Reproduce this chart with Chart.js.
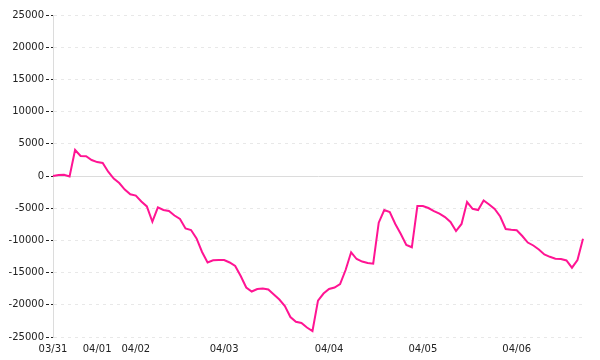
<!DOCTYPE html>
<html>
<head>
<meta charset="utf-8">
<script src="https://cdn.jsdelivr.net/npm/chart.js@4"></script>
<style>
  html, body { margin: 0; padding: 0; background: #fff; }
  #wrap { width: 600px; height: 360px; position: relative; }
</style>
</head>
<body>
<div id="wrap"><canvas id="myChart"></canvas></div>
<script>
// tick labels (one per trading day) and how many points each day has
const dayLabels = ['03/31', '04/01', '04/02', '04/03', '04/04', '04/05', '04/06'];
const pointsPerDay = [8, 7, 16, 19, 17, 17, 13];

// series values
const values = [
  0, 140, 200, -80, 4040, 3100, 3060, 2480,
  2160, 2020, 670, -390, -1090, -2100, -2840,
  -3040, -3960, -4720, -7100, -4860, -5280, -5440, -6130,
  -6680, -8150, -8390, -9700, -11800, -13430, -13090, -13050,
  -13050, -13430, -13980, -15530, -17320, -17940, -17550, -17470,
  -17630, -18400, -19180, -20190, -21900, -22640, -22830, -23530, -24070,
  -19340, -18250, -17550, -17320, -16770, -14600, -11850, -12890,
  -13290, -13510, -13620, -7250, -5280, -5600, -7450, -9000, -10700, -11070,
  -4660, -4660, -4970, -5440, -5850, -6370, -7140, -8540,
  -7450, -4040, -5090, -5280, -3800, -4430, -5120, -6290, -8230,
  -8360, -8420, -9320, -10330, -10790, -11410, -12190, -12550,
  -12840, -12890, -13120, -14240, -13050, -9740
];

// y axis tick values
const yMin = -25000, yMax = 25000, yStep = 5000;

// build one category per point from the day list
const labels = [];
dayLabels.forEach((d, i) => {
  for (let k = 0; k < pointsPerDay[i]; k++) labels.push(d);
});

const font = { family: 'DejaVu Sans', size: 10 };

const config = {
  type: 'line',
  data: {
    labels,
    datasets: [{
      data: values,
      borderColor: '#ff1493',
      borderWidth: 2,
      pointRadius: 0,
      tension: 0,
      fill: false
    }]
  },
  options: {
    responsive: true,
    maintainAspectRatio: false,
    animation: false,
    layout: { padding: { top: 15, right: 17, left: 0, bottom: 0 } },
    plugins: { legend: { display: false }, tooltip: { enabled: false } },
    scales: {
      x: {
        grid: { display: false, drawTicks: false },
        border: { display: false },
        afterFit: (scale) => { scale.height = 23; },
        ticks: {
          autoSkip: false,
          maxRotation: 0,
          padding: 6,
          color: '#222',
          font,
          callback: function (val, i) {
            return (i === 0 || labels[i] !== labels[i - 1]) ? labels[i] : '';
          }
        }
      },
      y: {
        min: yMin,
        max: yMax,
        afterFit: (scale) => { scale.width = 53; },
        grid: {
          color: (ctx) => (ctx.tick && ctx.tick.value === 0) ? '#dcdcdc' : '#e8e8e8',
          lineWidth: 1,
          drawTicks: true,
          tickLength: 7,
          tickColor: '#222',
          tickBorderDash: [3, 2]
        },
        border: {
          display: true,
          color: '#dcdcdc',
          width: 1,
          dash: (ctx) => (ctx.tick && ctx.tick.value === 0) ? [] : [3, 4]
        },
        ticks: {
          stepSize: yStep,
          padding: 2,
          color: '#222',
          font,
          callback: (v) => String(v)
        }
      }
    }
  }
};

const myChart = new Chart(document.getElementById('myChart'), config);
</script>
</body>
</html>
